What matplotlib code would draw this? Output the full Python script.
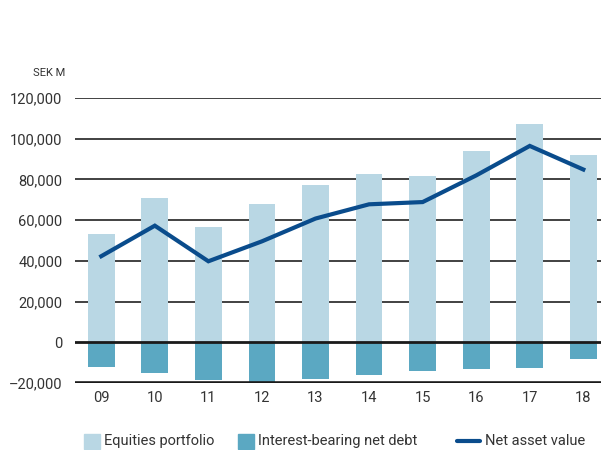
import matplotlib
matplotlib.use("Agg")
import matplotlib.pyplot as plt
from matplotlib.patches import Rectangle
from matplotlib.lines import Line2D

years = ["09", "10", "11", "12", "13", "14", "15", "16", "17", "18"]
equities = [53000, 70800, 56500, 67800, 77100, 82600, 81600, 93900, 107100, 91900]
net_debt = [-12300, -15100, -18700, -20000, -18000, -16200, -14100, -13100, -12600, -8200]
nav = [42300, 57300, 39800, 49600, 60800, 67800, 68900, 82000, 96500, 84900]
yticks = [-20000, 0, 20000, 40000, 60000, 80000, 100000, 120000]
legend_labels = ["Equities portfolio", "Interest-bearing net debt", "Net asset value"]

c_eq, c_debt, c_nav = "#b9d7e4", "#5ba8c2", "#0a4c8c"

plt.rcParams['font.family'] = ['Roboto', 'DejaVu Sans']

W, H = 601, 450
fig = plt.figure(figsize=(W / 100, H / 100), dpi=100)
ax = fig.add_axes([0.1248, 0.149, 0.8752, 0.633])

x = list(range(len(years)))
for yv in yticks:
    if yv == 0:
        ax.axhline(yv, color="#1a1a1a", lw=2.0, zorder=3)
    elif yv == -20000:
        ax.axhline(yv, color="#1a1a1a", lw=2.6, zorder=3)
    else:
        ax.axhline(yv, color="#333333", lw=1.3, zorder=0)

ax.bar(x, equities, width=0.5, color=c_eq, zorder=1)
ax.bar(x, net_debt, width=0.5, color=c_debt, zorder=1)
ax.plot(x, nav, color=c_nav, lw=3.0, zorder=4, solid_joinstyle="miter")

ax.set_xlim(-0.49, 9.33)
ax.set_ylim(-20000, 120000)
ax.set_yticks(yticks)
ax.set_yticklabels([f"{v:,}".replace("-", "\u2013") for v in yticks])
ax.set_xticks(x)
ax.set_xticklabels(years)
ax.tick_params(axis="both", length=0, labelsize=10.5, colors="#333333", pad=9)
ax.tick_params(axis="x", pad=6)
for s in ax.spines.values():
    s.set_visible(False)

fig.text(0.108, 0.838, "SEK M", ha="right", va="center", fontsize=8, color="#333333")

# manual legend (pixel positions -> figure fractions)
yc = 441
ph = 15
fig.add_artist(Rectangle((84 / W, 1 - (yc + ph / 2) / H), 16 / W, ph / H,
                         transform=fig.transFigure, color=c_eq))
fig.text(104 / W, 1 - yc / H, legend_labels[0], ha="left", va="center",
         fontsize=10.5, color="#333333")
fig.add_artist(Rectangle((238 / W, 1 - (yc + ph / 2) / H), 16 / W, ph / H,
                         transform=fig.transFigure, color=c_debt))
fig.text(258 / W, 1 - yc / H, legend_labels[1], ha="left", va="center",
         fontsize=10.5, color="#333333")
fig.add_artist(Line2D([457 / W, 480 / W], [1 - yc / H, 1 - yc / H],
                      transform=fig.transFigure, color=c_nav, lw=3,
                      solid_capstyle="round"))
fig.text(485 / W, 1 - yc / H, legend_labels[2], ha="left", va="center",
         fontsize=10.5, color="#333333")

fig.savefig("out.png", dpi=100)
